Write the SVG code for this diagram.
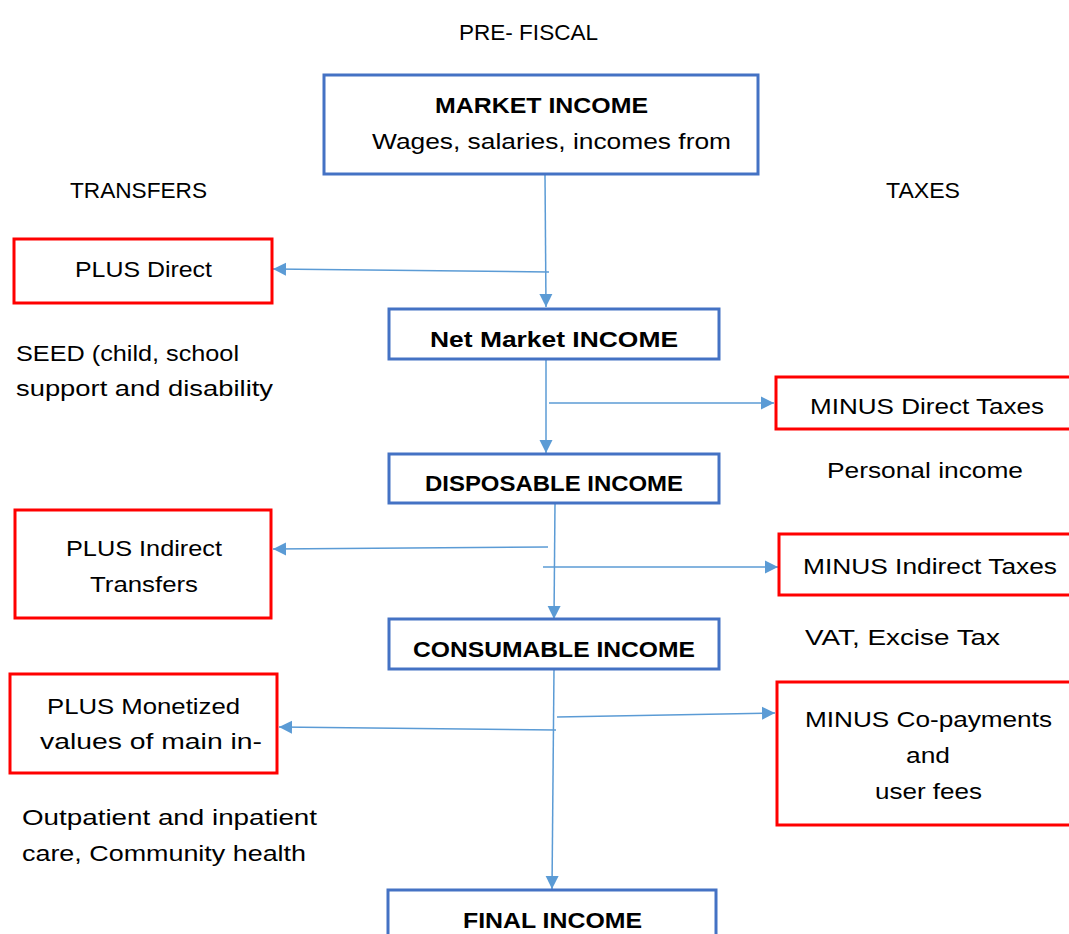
<svg xmlns="http://www.w3.org/2000/svg" width="1069" height="934" viewBox="0 0 1069 934">
<defs>
<marker id="ah" markerUnits="userSpaceOnUse" markerWidth="14" markerHeight="14" refX="13" refY="7" orient="auto">
<path d="M0,0.5 L13,7 L0,13.5 Z" fill="#5B9BD5"/>
</marker>
</defs>
<style>
text{font-family:"Liberation Sans",Arial,sans-serif;font-size:22px;fill:#000}
.b{font-weight:bold}
.c{text-anchor:middle}
.blue{fill:#fff;stroke:#4472C4;stroke-width:3}
.red{fill:#fff;stroke:#FF0000;stroke-width:3}
.con line{stroke:#5B9BD5;stroke-width:1.5;fill:none}
</style>
<rect width="1069" height="934" fill="#fff"/>
<text x="459" y="40" textLength="139" lengthAdjust="spacingAndGlyphs">PRE- FISCAL</text>
<text x="70" y="198" textLength="137" lengthAdjust="spacingAndGlyphs">TRANSFERS</text>
<text x="886" y="198" textLength="74" lengthAdjust="spacingAndGlyphs">TAXES</text>
<text x="16" y="361" textLength="223" lengthAdjust="spacingAndGlyphs">SEED (child, school</text>
<text x="16" y="396" textLength="257" lengthAdjust="spacingAndGlyphs">support and disability</text>
<text x="827" y="478" textLength="196" lengthAdjust="spacingAndGlyphs">Personal income</text>
<text x="805" y="645" textLength="195" lengthAdjust="spacingAndGlyphs">VAT, Excise Tax</text>
<text x="22" y="825" textLength="295" lengthAdjust="spacingAndGlyphs">Outpatient and inpatient</text>
<text x="22" y="861" textLength="284" lengthAdjust="spacingAndGlyphs">care, Community health</text>

<g class="con">
<line x1="545" y1="175" x2="546" y2="307" marker-end="url(#ah)"/>
<line x1="549" y1="272" x2="273" y2="269" marker-end="url(#ah)"/>
<line x1="546" y1="360" x2="546" y2="453" marker-end="url(#ah)"/>
<line x1="549" y1="403" x2="774" y2="403" marker-end="url(#ah)"/>
<line x1="555" y1="503" x2="554" y2="619" marker-end="url(#ah)"/>
<line x1="548" y1="547" x2="273" y2="549" marker-end="url(#ah)"/>
<line x1="543" y1="567" x2="778" y2="567" marker-end="url(#ah)"/>
<line x1="554" y1="669" x2="552" y2="889" marker-end="url(#ah)"/>
<line x1="556" y1="730" x2="279" y2="727" marker-end="url(#ah)"/>
<line x1="557" y1="717" x2="775" y2="713" marker-end="url(#ah)"/>
</g>

<g id="market-income">
<rect class="blue" x="324" y="75" width="434" height="99"/>
<text class="b" x="435" y="113" textLength="213" lengthAdjust="spacingAndGlyphs">MARKET INCOME</text>
<text x="372" y="149" textLength="359" lengthAdjust="spacingAndGlyphs">Wages, salaries, incomes from</text>
</g>
<g id="plus-direct">
<rect class="red" x="14" y="239" width="258" height="64"/>
<text x="75" y="277" textLength="137" lengthAdjust="spacingAndGlyphs">PLUS Direct</text>
</g>
<g id="net-market-income">
<rect class="blue" x="389" y="309" width="330" height="50"/>
<text class="b" x="430" y="347" textLength="248" lengthAdjust="spacingAndGlyphs">Net Market INCOME</text>
</g>
<g id="minus-direct-taxes">
<rect class="red" x="776" y="377" width="300" height="52"/>
<text x="810" y="414" textLength="234" lengthAdjust="spacingAndGlyphs">MINUS Direct Taxes</text>
</g>
<g id="disposable-income">
<rect class="blue" x="389" y="454" width="330" height="49"/>
<text class="b" x="425" y="491" textLength="258" lengthAdjust="spacingAndGlyphs">DISPOSABLE INCOME</text>
</g>
<g id="plus-indirect">
<rect class="red" x="15" y="510" width="256" height="108"/>
<text x="66" y="556" textLength="156" lengthAdjust="spacingAndGlyphs">PLUS Indirect</text>
<text x="90" y="592" textLength="108" lengthAdjust="spacingAndGlyphs">Transfers</text>
</g>
<g id="minus-indirect-taxes">
<rect class="red" x="779" y="534" width="300" height="61"/>
<text x="803" y="574" textLength="254" lengthAdjust="spacingAndGlyphs">MINUS Indirect Taxes</text>
</g>
<g id="consumable-income">
<rect class="blue" x="389" y="619" width="330" height="50"/>
<text class="b" x="413" y="657" textLength="282" lengthAdjust="spacingAndGlyphs">CONSUMABLE INCOME</text>
</g>
<g id="plus-monetized">
<rect class="red" x="10" y="674" width="267" height="99"/>
<text x="47" y="714" textLength="193" lengthAdjust="spacingAndGlyphs">PLUS Monetized</text>
<text x="40" y="749" textLength="222" lengthAdjust="spacingAndGlyphs">values of main in-</text>
</g>
<g id="minus-copayments">
<rect class="red" x="777" y="682" width="300" height="143"/>
<text x="805" y="727" textLength="247" lengthAdjust="spacingAndGlyphs">MINUS Co-payments</text>
<text x="906" y="763" textLength="44" lengthAdjust="spacingAndGlyphs">and</text>
<text x="875" y="799" textLength="107" lengthAdjust="spacingAndGlyphs">user fees</text>
</g>
<g id="final-income">
<rect class="blue" x="388" y="890" width="328" height="60"/>
<text class="b" x="463" y="928" textLength="179" lengthAdjust="spacingAndGlyphs">FINAL INCOME</text>
</g>
</svg>
